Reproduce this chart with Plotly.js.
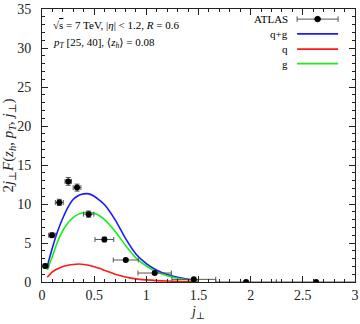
<!DOCTYPE html>
<html>
<head>
<meta charset="utf-8">
<script src="https://cdn.plot.ly/plotly-3.0.1.min.js"></script>
<style>
  html, body { margin: 0; padding: 0; background: #fff; }
  #chart { width: 360px; height: 324px; }
</style>
</head>
<body>
<div id="chart"></div>
<script>
// ATLAS points
const atlasX = [0.032, 0.096, 0.166, 0.252, 0.336, 0.447, 0.598, 0.803, 1.08, 1.455, 1.956, 2.627]
const atlasY = [2.05, 6.0, 10.2, 12.9, 12.1, 8.7, 5.45, 2.82, 1.15, 0.34, 0.0, 0.0]
const atlasXErr = [0.032, 0.032, 0.038, 0.031, 0.037, 0.05, 0.09, 0.12, 0.16, 0.21, 0.29, 0.38]
const atlasYErr = [0.25, 0.3, 0.4, 0.5, 0.45, 0.4, 0.3, 0.2, 0.15, 0.1, 0.05, 0.05]

// theory curves
const curveX = [0.05, 0.1, 0.15, 0.2, 0.25, 0.3, 0.35, 0.4, 0.45, 0.5, 0.55, 0.6,
  0.7, 0.8, 0.9, 1.0, 1.1, 1.2, 1.3, 1.4, 1.5]
const qgY = [2.0, 4.4, 6.5, 8.2, 9.6, 10.6, 11.1, 11.3, 11.3, 11.0, 10.5, 9.9,
  8.0, 5.6, 3.6, 2.35, 1.5, 0.95, 0.6, 0.35, 0.2]
const qY = [0.6, 1.3, 1.7, 2.0, 2.15, 2.25, 2.3, 2.25, 2.15, 1.95, 1.75, 1.5,
  1.0, 0.65, 0.4, 0.27, 0.18, 0.12, 0.08, 0.05, 0.04]
const gY = [1.55, 3.3, 5.2, 6.6, 7.6, 8.3, 8.7, 8.9, 8.95, 8.8, 8.5, 8.0,
  6.5, 4.7, 3.1, 2.05, 1.3, 0.8, 0.48, 0.28, 0.15]

const legendNames = ['ATLAS', 'q+g', 'q', 'g']
const legendColors = ['#000000', '#1a1aff', '#ff1a1a', '#1aee1a']

const FONT = 'Liberation Serif, DejaVu Serif, serif'

const curve = (y, color) => ({
  x: curveX,
  y: y,
  type: 'scatter',
  mode: 'lines',
  line: { color: color, width: 1.6, shape: 'spline', smoothing: 0.8 },
  hoverinfo: 'skip',
})

const data = [
  curve(qgY, legendColors[1]),
  curve(qY, legendColors[2]),
  curve(gY, legendColors[3]),
  {
    x: atlasX,
    y: atlasY,
    type: 'scatter',
    mode: 'markers',
    cliponaxis: true,
    marker: { color: '#000', size: 6 },
    error_x: { type: 'data', array: atlasXErr, color: '#555', thickness: 1, width: 2.5 },
    error_y: { type: 'data', array: atlasYErr, color: '#555', thickness: 1, width: 2.5 },
  },
]

// hand-made legend: text on the left, sample on the right
const rowY = [0.963, 0.909, 0.853, 0.8]
const annotations = legendNames.map((name, i) => ({
  xref: 'paper', yref: 'paper', x: 0.792, y: rowY[i],
  xanchor: 'right', yanchor: 'middle', showarrow: false,
  text: name, font: { family: FONT, size: 11, color: '#000' },
}))
annotations.push({
  xref: 'paper', yref: 'paper', x: 0.03, y: 0.94,
  xanchor: 'left', yanchor: 'middle', showarrow: false,
  text: '√<span style="text-decoration:overline">s</span> = 7 TeV, |<i>η</i>| &lt; 1.2, <i>R</i> = 0.6',
  font: { family: FONT, size: 11, color: '#000' },
})
annotations.push({
  xref: 'paper', yref: 'paper', x: 0.03, y: 0.877,
  xanchor: 'left', yanchor: 'middle', showarrow: false,
  text: '<i>p<sub>T</sub></i> [25, 40], ⟨<i>z<sub>h</sub></i>⟩ = 0.08',
  font: { family: FONT, size: 11, color: '#000' },
})

const shapes = legendColors.map((c, i) => ({
  type: 'line', xref: 'paper', yref: 'paper',
  x0: 0.815, x1: 0.946, y0: rowY[i], y1: rowY[i],
  line: { color: i === 0 ? '#555' : c, width: i === 0 ? 1 : 1.6 },
}))
// caps and dot for the ATLAS sample
;[0.815, 0.946].forEach((x) => shapes.push({
  type: 'line', xref: 'paper', yref: 'paper',
  x0: x, x1: x, y0: rowY[0] - 0.01, y1: rowY[0] + 0.01,
  line: { color: '#555', width: 1 },
}))
shapes.push({
  type: 'circle', xref: 'paper', yref: 'paper',
  x0: 0.8805 - 0.009, x1: 0.8805 + 0.009, y0: rowY[0] - 0.01, y1: rowY[0] + 0.01,
  fillcolor: '#000', line: { color: '#000', width: 1 },
})

const axisCommon = {
  showgrid: false,
  zeroline: false,
  showline: true,
  linecolor: '#222',
  linewidth: 1,
  mirror: 'allticks',
  ticks: 'inside',
  ticklen: 6,
  tickcolor: '#222',
  tickfont: { family: FONT, size: 14, color: '#222' },
  fixedrange: true,
}

const layout = {
  width: 360,
  height: 324,
  margin: { l: 42, r: 5, t: 9, b: 42 },
  paper_bgcolor: '#fff',
  plot_bgcolor: '#fff',
  showlegend: false,
  xaxis: Object.assign({}, axisCommon, {
    range: [0, 3],
    dtick: 0.5,
    tick0: 0,
    minor: { dtick: 0.1, ticks: 'inside', ticklen: 3, tickcolor: '#222' },
    title: { text: '<i>j</i><sub>⊥</sub>', font: { family: FONT, size: 14, color: '#222' }, standoff: 4 },
  }),
  yaxis: Object.assign({}, axisCommon, {
    range: [0, 35],
    dtick: 5,
    tick0: 0,
    ticksuffix: '\u2002',
    minor: { dtick: 1, ticks: 'inside', ticklen: 3, tickcolor: '#222' },
    title: {
      text: '2<i>j</i><sub>⊥</sub><i>F</i>(<i>z<sub>h</sub></i>, <i>p<sub>T</sub></i>, <i>j</i><sub>⊥</sub>)',
      font: { family: FONT, size: 15, color: '#222' },
      standoff: 0,
    },
  }),
  annotations: annotations,
  shapes: shapes,
}

try {
  Plotly.newPlot('chart', data, layout, { displayModeBar: false, staticPlot: true })
} catch (e) {
  console.log('ERR', e)
}
</script>
</body>
</html>
